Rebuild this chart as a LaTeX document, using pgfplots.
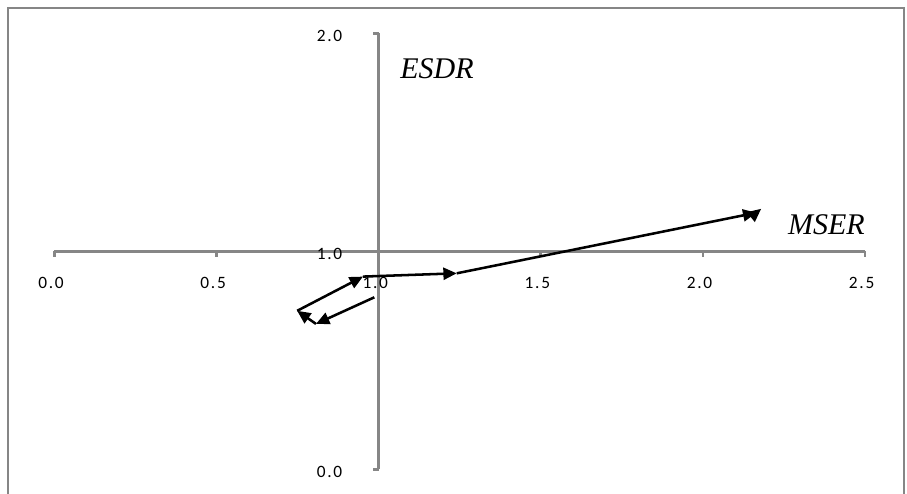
\documentclass[border=0pt]{standalone}
\usepackage{pgfplots}
\pgfplotsset{compat=1.18}
\usepackage{fontspec}
\setmainfont{Carlito}
\newfontfamily\tickfont[LetterSpace=10]{Carlito}
\newfontfamily\tnr{Liberation Serif}
\usetikzlibrary{arrows.meta}
\definecolor{axgray}{RGB}{134,134,134}
\begin{document}
\begin{tikzpicture}[x=0.75pt,y=0.75pt]
\useasboundingbox (-54.3,-23.7) rectangle (852.7,469.3);
\draw[axgray, line width=1.5pt] (-46.3,-40) -- (-46.3,461.3) -- (849.5,461.3) -- (849.5,-40);
\begin{axis}[at={(0,0)}, anchor=origin, scale only axis,
  width=608pt, height=327pt,
  xmin=0, xmax=2.5, ymin=0, ymax=2,
  axis lines=none, clip=false]
% axes crossing at (1,1)
\draw[axgray, line width=2pt] (axis cs:0,1) -- (axis cs:2.5,1);
\draw[axgray, line width=2pt] (axis cs:1,0) -- (axis cs:1,2);
\pgfplotsinvokeforeach{0.0,0.5,1.0,1.5,2.0,2.5}{
  \draw[axgray, line width=2pt] (axis cs:#1,1) -- ++(0pt,-4.5pt);
  \node[font=\tickfont\fontsize{13}{15}\selectfont] at ([xshift=-2.5pt,yshift=-23.6pt]axis cs:#1,1) {#1};
}
\pgfplotsinvokeforeach{0.0,1.0,2.0}{
  \draw[axgray, line width=2pt] (axis cs:1,#1) -- ++(-4.5pt,0pt);
  \node[anchor=east, font=\tickfont\fontsize{13}{15}\selectfont] at ([xshift=-23.7pt,yshift=-1.9pt]axis cs:1,#1) {#1};
}
\node[font=\tnr\itshape\fontsize{22.5}{26}\selectfont] at (axis cs:1.180,1.836) {ESDR};
\node[font=\tnr\itshape\fontsize{22.5}{26}\selectfont] at (axis cs:2.381,1.121) {MSER};
% trajectory, one segment per step
\pgfplotsset{seg/.style={black, no marks, line width=1.9pt, -{Triangle[length=10pt,width=9pt]}}}
\addplot[seg] coordinates {(0.987,0.789) (0.807,0.667)};
\addplot[seg] coordinates {(0.807,0.667) (0.749,0.727)};
\addplot[seg] coordinates {(0.749,0.727) (0.952,0.884)};
\addplot[seg] coordinates {(0.952,0.884) (1.241,0.899)};
\addplot[seg] coordinates {(1.241,0.899) (2.165,1.177)};
\addplot[seg] coordinates {(2.165,1.177) (2.18,1.195)};
\end{axis}
\end{tikzpicture}
\end{document}
